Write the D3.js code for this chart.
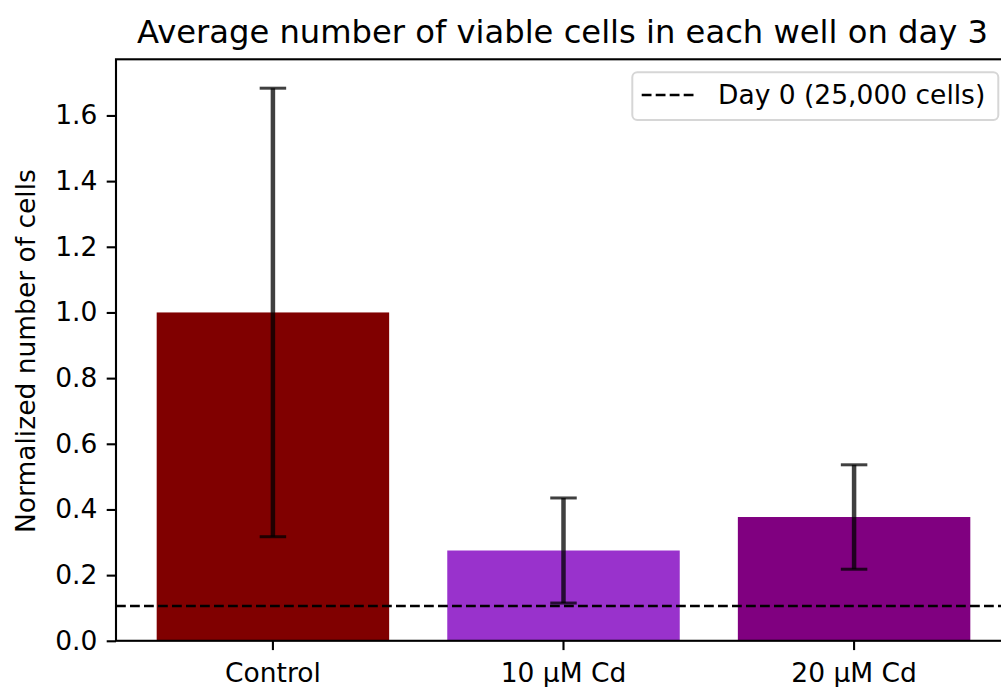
<!DOCTYPE html>
<html>
<head>
<meta charset="utf-8">
<script src="https://cdn.jsdelivr.net/npm/d3@7"></script>
<style>
  html, body { margin: 0; padding: 0; background: #fff; }
  svg { display: block; font-family: "DejaVu Sans", sans-serif; }
</style>
</head>
<body>
<svg id="chart" width="1001" height="687"></svg>
<script>
// ---- data ----
const categories = ["Control", "10 µM Cd", "20 µM Cd"];
const means = [1.0, 0.275, 0.377];
const errors = [0.683, 0.160, 0.159];
const colors = ["#800000", "#9932cc", "#800080"];
const day0Value = 0.106;
const yTicks = [0.0, 0.2, 0.4, 0.6, 0.8, 1.0, 1.2, 1.4, 1.6];
const titleText = "Average number of viable cells in each well on day 3";
const yLabelText = "Normalized number of cells";
const legendText = "Day 0 (25,000 cells)";

(function () {
// ---- layout ----
const svg = d3.select("#chart");
const pL = 116, pR = 1011, pT = 59.3, pB = 640.8;
const fs = 26.5;

const x = d3.scaleBand().domain(categories).range([pL, pR])
  .paddingInner(0.2).paddingOuter(0.14);
const y = d3.scaleLinear().domain([0, 1.771]).range([pB, pT]);

// bars
svg.append("g").selectAll("rect").data(categories).join("rect")
  .attr("x", d => x(d))
  .attr("width", x.bandwidth())
  .attr("y", (d, i) => y(means[i]))
  .attr("height", (d, i) => y(0) - y(means[i]))
  .attr("fill", (d, i) => colors[i]);

// day 0 dashed line
svg.append("line")
  .attr("x1", pL).attr("x2", pR)
  .attr("y1", y(day0Value)).attr("y2", y(day0Value))
  .attr("stroke", "#000").attr("stroke-width", 2.65)
  .attr("stroke-dasharray", "9.8,4.2");

// error bars
const eb = svg.append("g").attr("stroke", "#000").attr("stroke-opacity", 0.75);
const cap = 13.25;
categories.forEach((c, i) => {
  const cx = x(c) + x.bandwidth() / 2;
  const yt = y(means[i] + errors[i]), yb = y(means[i] - errors[i]);
  eb.append("line").attr("x1", cx).attr("x2", cx).attr("y1", yt).attr("y2", yb)
    .attr("stroke-width", 4.5);
  eb.append("line").attr("x1", cx - cap).attr("x2", cx + cap).attr("y1", yt).attr("y2", yt)
    .attr("stroke-width", 3);
  eb.append("line").attr("x1", cx - cap).attr("x2", cx + cap).attr("y1", yb).attr("y2", yb)
    .attr("stroke-width", 3);
});

// axes
const yAxis = d3.axisLeft(y).tickValues(yTicks).tickFormat(d3.format(".1f"))
  .tickSize(9.3).tickPadding(9.3).tickSizeOuter(0);
const gy = svg.append("g").attr("transform", `translate(${pL},0)`).call(yAxis);
gy.select(".domain").remove();
gy.selectAll(".tick line").attr("stroke", "#000").attr("stroke-width", 2.1);
gy.selectAll(".tick text").attr("font-size", fs).attr("fill", "#000")
  .attr("font-family", "DejaVu Sans");

const xAxis = d3.axisBottom(x).tickSize(9.3).tickPadding(9.3).tickSizeOuter(0);
const gx = svg.append("g").attr("transform", `translate(0,${pB})`).call(xAxis);
gx.select(".domain").remove();
gx.selectAll(".tick line").attr("stroke", "#000").attr("stroke-width", 2.1);
gx.selectAll(".tick text").attr("font-size", fs).attr("fill", "#000")
  .attr("font-family", "DejaVu Sans").attr("dy", null).attr("y", 41.5);

// spines
svg.append("rect").attr("x", pL).attr("y", pT)
  .attr("width", pR - pL).attr("height", pB - pT)
  .attr("fill", "none").attr("stroke", "#000").attr("stroke-width", 2.1);

// title
svg.append("text").attr("x", (pL + pR) / 2 - 1).attr("y", 43.3)
  .attr("text-anchor", "middle").attr("font-size", 32.2).attr("fill", "#000")
  .text(titleText);

// y label
svg.append("text")
  .attr("transform", `translate(35,${(pT + pB) / 2 + 1}) rotate(-90)`)
  .attr("text-anchor", "middle").attr("font-size", fs).attr("fill", "#000")
  .text(yLabelText);

// legend
const lg = svg.append("g");
lg.append("rect").attr("x", 632.3).attr("y", 72.3).attr("width", 366).attr("height", 47.7)
  .attr("rx", 5).attr("fill", "#fff").attr("fill-opacity", 0.8)
  .attr("stroke", "#d6d6d6").attr("stroke-width", 2);
lg.append("line").attr("x1", 641.7).attr("x2", 697).attr("y1", 95).attr("y2", 95)
  .attr("stroke", "#000").attr("stroke-width", 2.65).attr("stroke-dasharray", "9.8,4.2");
lg.append("text").attr("x", 718).attr("y", 104.3).attr("font-size", fs).attr("fill", "#000")
  .text(legendText);
})();
</script>
</body>
</html>
